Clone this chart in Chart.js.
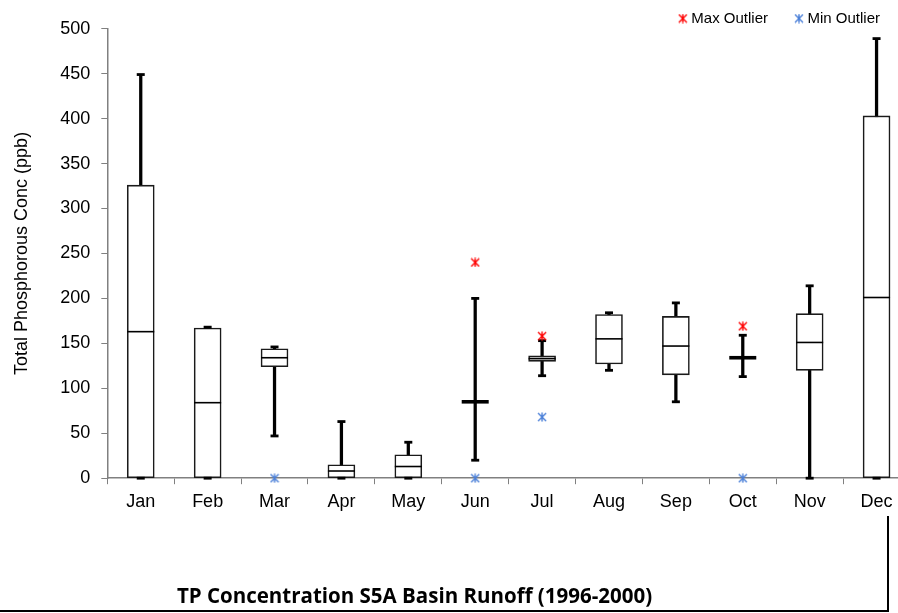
<!DOCTYPE html>
<html>
<head>
<meta charset="utf-8">
<script src="https://cdn.jsdelivr.net/npm/chart.js@4"></script>
<style>
  html, body { margin: 0; padding: 0; background: #fff; overflow: hidden; }
  #wrap { position: relative; width: 898px; height: 613px; overflow: hidden; }
  canvas { display: block; }
  /* leftover frame of the title box */
  #frame { position: absolute; left: 0; top: 516px; width: 887px; height: 94px;
           border-right: 2px solid #000; border-bottom: 2px solid #000; }
</style>
</head>
<body>
<div id="wrap">
  <canvas id="chart" width="910" height="613"></canvas>
  <div id="frame"></div>
</div>
<script>
// monthly box plot stats, TP (ppb)
const months = ['Jan', 'Feb', 'Mar', 'Apr', 'May', 'Jun', 'Jul', 'Aug', 'Sep', 'Oct', 'Nov', 'Dec'];
const whiskerLow  = [0, 0, 47, 0, 0, 20, 114, 120, 85, 113, 0, 0];
const q1          = [0, 0, 124, 0, 0, 85, 130, 127, 115, 134, 120, 0];
const median      = [163, 84, 134, 8, 13, 85, 133, 155, 147, 134, 151, 201];
const q3          = [326, 167, 144, 15, 26, 85, 136, 182, 180, 134, 183, 403];
const whiskerHigh = [449, 168, 146, 63, 40, 200, 153, 184, 195, 159, 214, 489];
const maxOutlier  = [null, null, null, null, null, 240, 158, null, null, 169, null, null];
const minOutlier  = [null, null, 0, null, null, 0, 68, null, null, 0, null, null];
const yTicks = [0, 50, 100, 150, 200, 250, 300, 350, 400, 450, 500];

const AXIS = '#808080';
Chart.defaults.font.family = "'Liberation Sans', Arial, sans-serif";
Chart.defaults.color = '#000';

// move the bottom title left a bit (it sits off-centre in the original)
const titleShift = {
    id: 'titleShift',
    afterLayout(chart) {
        const t = chart.titleBlock;
        t.left = 0;
        t.right = 829;
        t.width = 829;
    }
};

// excel style asterisk: an X with a vertical bar
function asterisk(color, size) {
    const c = document.createElement('canvas');
    c.width = size;
    c.height = size;
    const g = c.getContext('2d');
    const m = size / 2, r = size / 2 - 1;
    g.strokeStyle = color;
    g.lineWidth = 1.4;
    g.beginPath();
    g.moveTo(m - r, m - r); g.lineTo(m + r, m + r);
    g.moveTo(m + r, m - r); g.lineTo(m - r, m + r);
    g.moveTo(m, m - r - 0.5); g.lineTo(m, m + r + 0.5);
    g.stroke();
    return c;
}

const pointSet = (label, data, extra) => Object.assign({
    type: 'line',
    label: label,
    data: data,
    showLine: false,
    clip: false,
    pointBackgroundColor: 'rgba(0,0,0,0)',
    pointBorderColor: '#000'
}, extra);

new Chart(document.getElementById('chart'), {
    type: 'bar',
    data: {
        labels: months,
        datasets: [
            {
                label: 'whisker',
                data: months.map((m, i) => [whiskerLow[i], whiskerHigh[i]]),
                backgroundColor: '#000',
                borderWidth: 0,
                barThickness: 2.6,
                grouped: false,
                order: 6
            },
            {
                label: 'box',
                data: months.map((m, i) => [q1[i], q3[i]]),
                backgroundColor: '#fff',
                borderColor: '#1a1a1a',
                borderWidth: 1.6,
                borderSkipped: false,
                barThickness: 27,
                grouped: false,
                order: 5
            },
            pointSet('median', median, {
                pointStyle: 'line',
                pointRadius: 13.5,
                pointBorderWidth: ctx => q1[ctx.dataIndex] === q3[ctx.dataIndex] ? 3.6 : 1.6,
                order: 4
            }),
            pointSet('capHigh', whiskerHigh, {
                pointStyle: 'line', pointRadius: 4, pointBorderWidth: 2.8, order: 3
            }),
            pointSet('capLow', whiskerLow, {
                pointStyle: 'line', pointRadius: 4, pointBorderWidth: 2.8, order: 3
            }),
            pointSet('Max Outlier', maxOutlier, {
                pointStyle: asterisk('#ff0000', 10), pointRadius: 5,
                pointBorderColor: '#ff0000', order: 1
            }),
            pointSet('Min Outlier', minOutlier, {
                pointStyle: asterisk('#4a7fd8', 10), pointRadius: 5,
                pointBorderColor: '#4a7fd8', order: 1
            })
        ]
    },
    options: {
        responsive: false,
        devicePixelRatio: 1,
        animation: false,
        events: [],
        layout: { autoPadding: false, padding: { top: -19, left: 0, right: 0, bottom: 0 } },
        scales: {
            x: {
                offset: true,
                grid: { offset: true, drawOnChartArea: false, drawTicks: true, tickLength: 6, color: AXIS },
                border: { color: AXIS, width: 1.5 },
                ticks: { font: { size: 18 }, padding: 7, color: '#000' },
                afterFit: s => { s.height = 40; }
            },
            y: {
                min: 0,
                max: 500,
                afterBuildTicks: s => { s.ticks = yTicks.map(v => ({ value: v })); },
                grid: { drawOnChartArea: false, drawTicks: true, tickLength: 6, color: AXIS },
                border: { color: AXIS, width: 1.5 },
                ticks: { font: { size: 18 }, padding: 11, color: '#000' },
                title: {
                    display: true,
                    text: 'Total Phosphorous Conc (ppb)',
                    font: { size: 18 },
                    padding: { top: 11, bottom: 0 }
                },
                afterFit: s => { s.width = 107.3; }
            }
        },
        plugins: {
            legend: {
                position: 'top',
                align: 'end',
                maxHeight: 47.7,
                labels: {
                    usePointStyle: true,
                    boxWidth: 2,
                    boxHeight: 5,
                    padding: 30,
                    font: { size: 15 },
                    filter: item => item.text.indexOf('Outlier') !== -1
                }
            },
            title: {
                display: true,
                position: 'bottom',
                text: 'TP Concentration S5A Basin Runoff (1996-2000)',
                font: { family: "'Open Sans'", size: 20.5, weight: 'bold' },
                color: '#000',
                padding: { top: 67, bottom: 3.2 }
            },
            tooltip: { enabled: false }
        }
    },
    plugins: [titleShift]
});
</script>
</body>
</html>
